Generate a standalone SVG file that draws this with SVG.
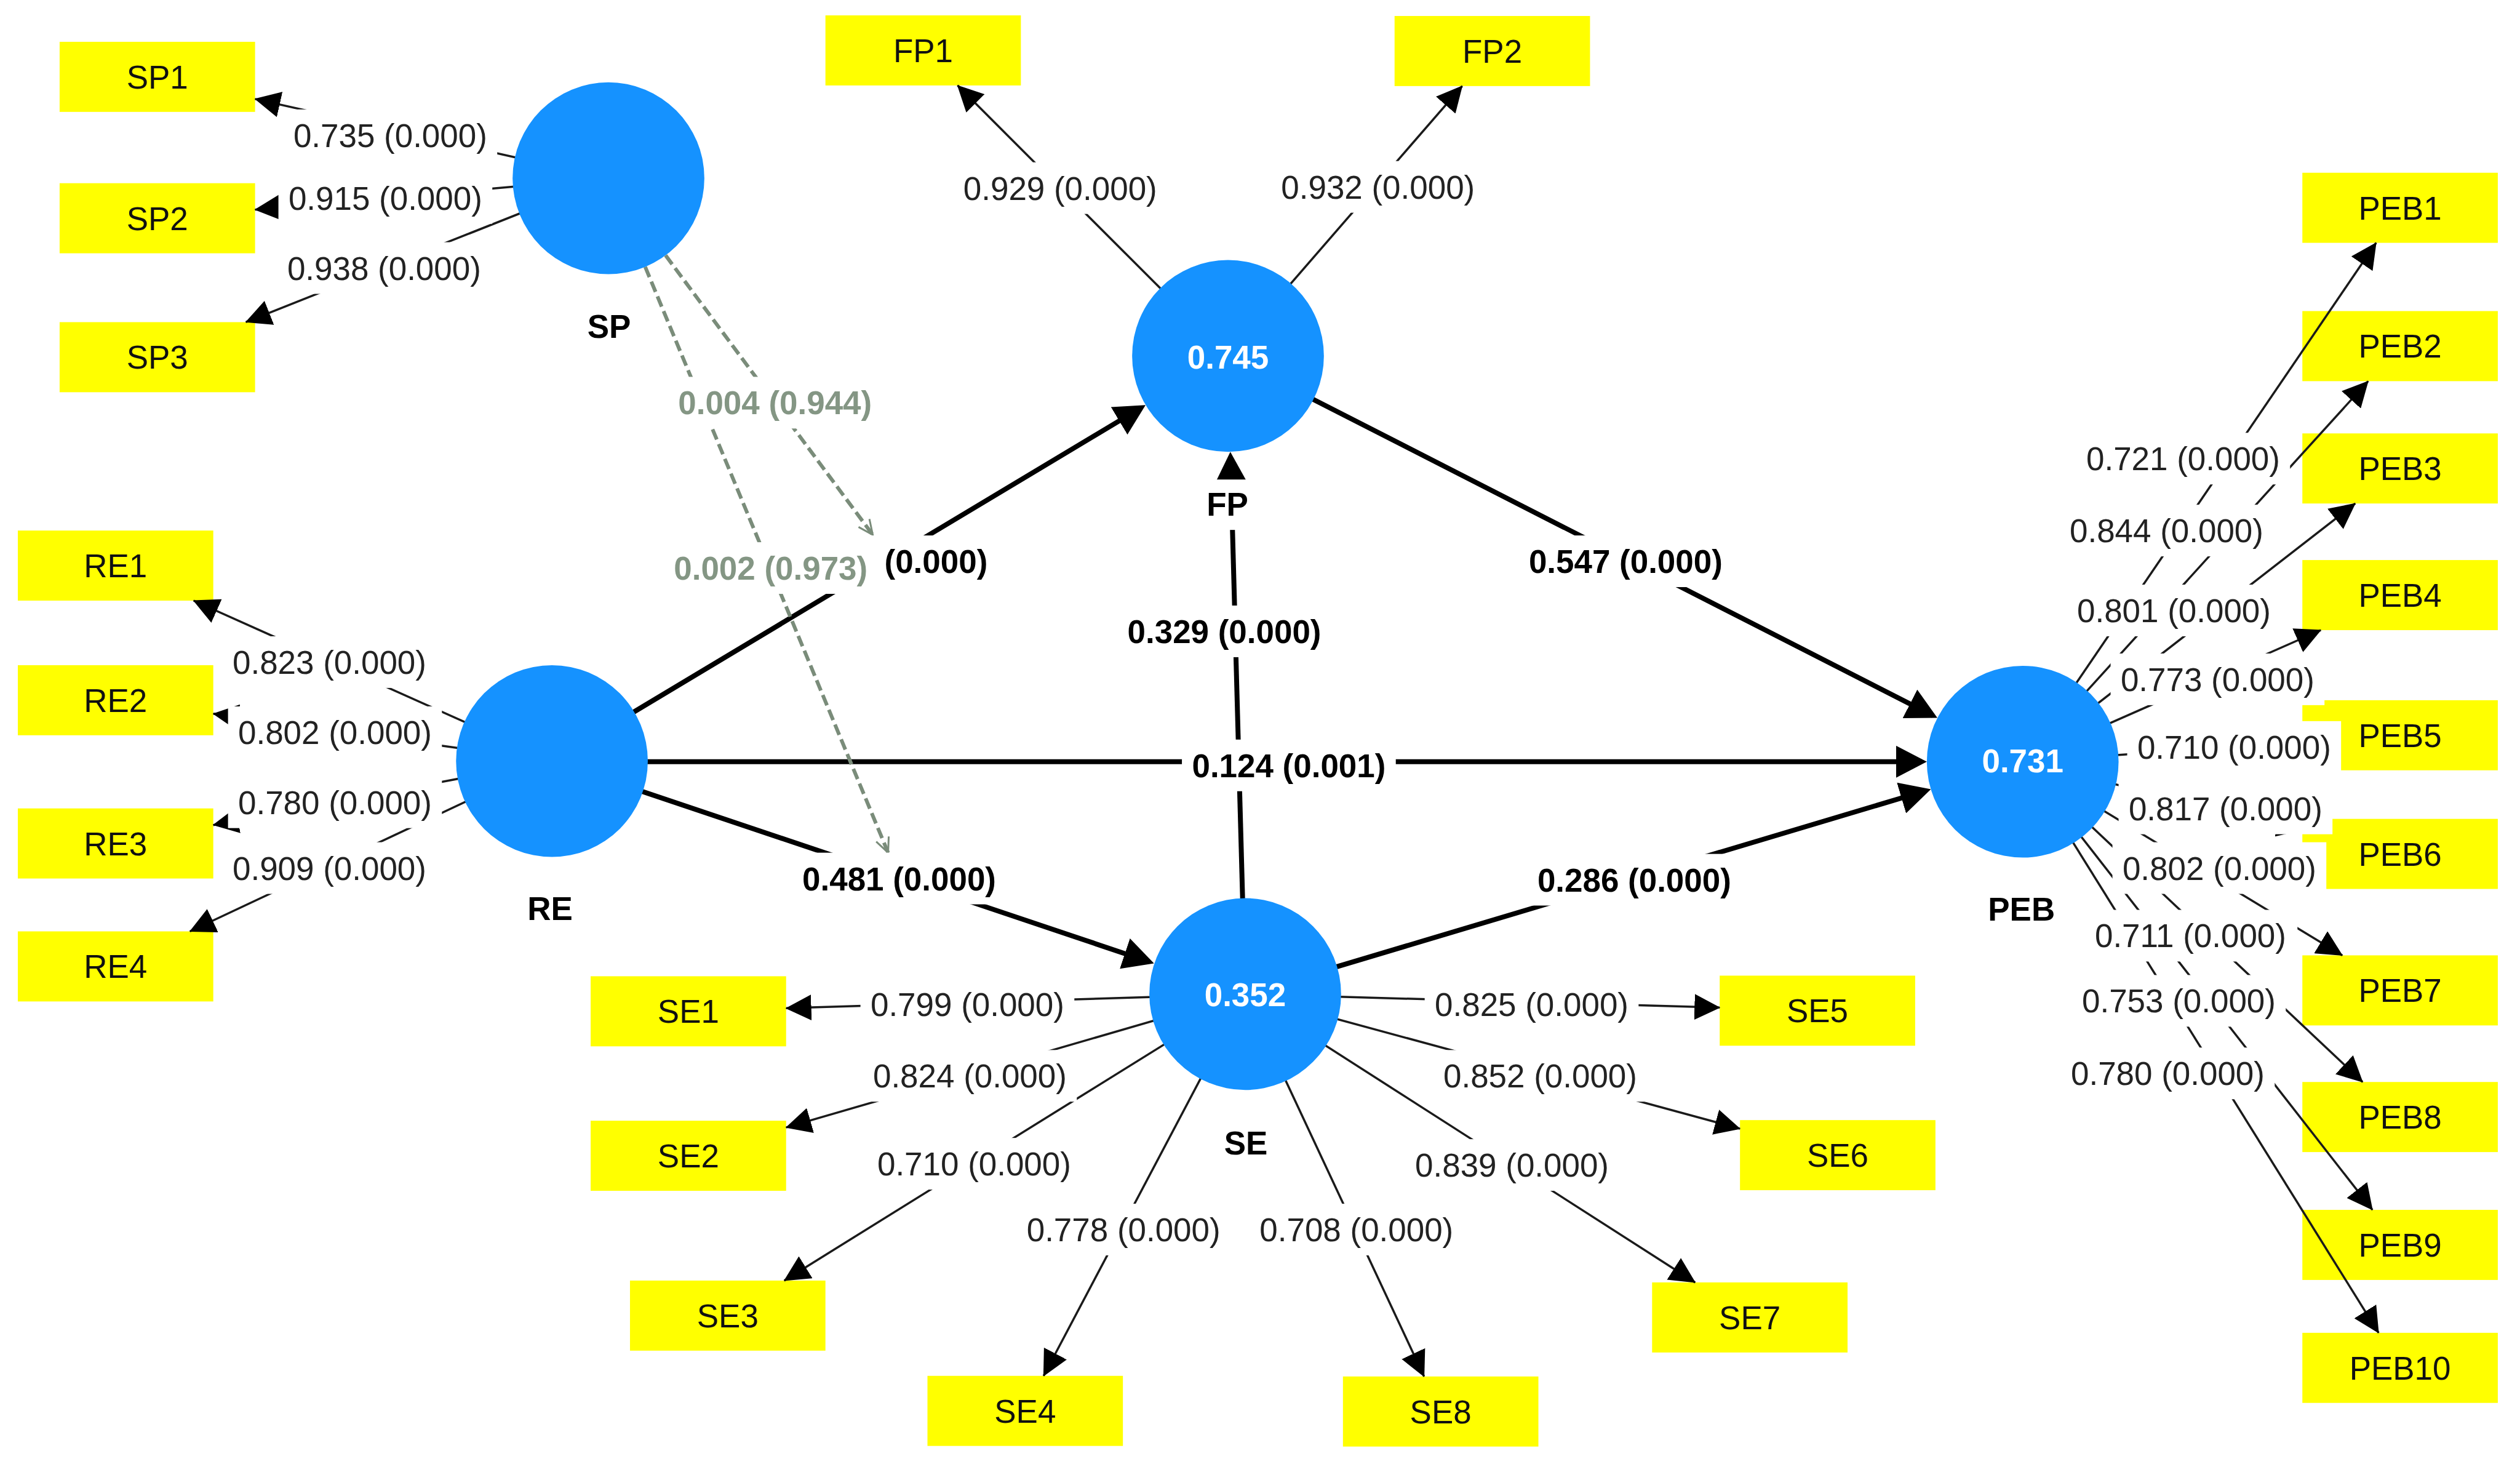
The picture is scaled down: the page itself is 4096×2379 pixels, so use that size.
<svg xmlns="http://www.w3.org/2000/svg" width="4096" height="2379" viewBox="0 0 4096 2379">
<style>
text{font-family:"Liberation Sans",Arial,sans-serif;font-size:53px;text-anchor:middle}
.box{fill:#FFFF00}
.bt{fill:#111}
.lv{fill:#1592FF}
.lt{fill:#fff;font-weight:bold}
.nm{fill:#000;font-weight:bold}
.bg{fill:#fff}
.ld{stroke:#1a1a1a;stroke-width:3.5;fill:none;marker-end:url(#a1)}
.lp{stroke:#000;stroke-width:8;fill:none;marker-end:url(#a2)}
.dm{stroke:#7a8c7a;stroke-width:6;stroke-dasharray:18 8;fill:none;marker-end:url(#ao)}
.tl{fill:#222}
.tp{fill:#000;font-weight:bold}
.tg{fill:#849684;font-weight:bold}
</style>
<defs>
<marker id="a1" markerUnits="userSpaceOnUse" markerWidth="42" markerHeight="42" viewBox="0 0 42 42" refX="41" refY="21" orient="auto"><path d="M0,0 L42,21 L0,42 z" fill="#000"/></marker>
<marker id="a2" markerUnits="userSpaceOnUse" markerWidth="50" markerHeight="52" viewBox="0 0 50 52" refX="42" refY="26" orient="auto"><path d="M0,0 L50,26 L0,52 z" fill="#000"/></marker>
<marker id="ao" markerUnits="userSpaceOnUse" markerWidth="30" markerHeight="30" viewBox="0 0 30 30" refX="28" refY="15" orient="auto"><path d="M4,4 L28,15 L4,26" fill="none" stroke="#7a8c7a" stroke-width="3"/></marker>
</defs>
<rect width="4096" height="2379" fill="#fff"/>
<g transform="scale(0.999)">
<g id="indicators">
<g id="SP1"><rect class="box" x="97" y="68" width="318" height="114"/><text class="bt" x="256" y="144">SP1</text></g>
<g id="SP2"><rect class="box" x="97" y="298" width="318" height="114"/><text class="bt" x="256" y="374">SP2</text></g>
<g id="SP3"><rect class="box" x="97" y="524" width="318" height="114"/><text class="bt" x="256" y="600">SP3</text></g>
<g id="FP1"><rect class="box" x="1343" y="25" width="318" height="114"/><text class="bt" x="1502" y="101">FP1</text></g>
<g id="FP2"><rect class="box" x="2269" y="26" width="318" height="114"/><text class="bt" x="2428" y="102">FP2</text></g>
<g id="RE1"><rect class="box" x="29" y="863" width="318" height="114"/><text class="bt" x="188" y="939">RE1</text></g>
<g id="RE2"><rect class="box" x="29" y="1082" width="318" height="114"/><text class="bt" x="188" y="1158">RE2</text></g>
<g id="RE3"><rect class="box" x="29" y="1315" width="318" height="114"/><text class="bt" x="188" y="1391">RE3</text></g>
<g id="RE4"><rect class="box" x="29" y="1515" width="318" height="114"/><text class="bt" x="188" y="1591">RE4</text></g>
<g id="SE1"><rect class="box" x="961" y="1588" width="318" height="114"/><text class="bt" x="1120" y="1664">SE1</text></g>
<g id="SE2"><rect class="box" x="961" y="1823" width="318" height="114"/><text class="bt" x="1120" y="1899">SE2</text></g>
<g id="SE3"><rect class="box" x="1025" y="2083" width="318" height="114"/><text class="bt" x="1184" y="2159">SE3</text></g>
<g id="SE4"><rect class="box" x="1509" y="2238" width="318" height="114"/><text class="bt" x="1668" y="2314">SE4</text></g>
<g id="SE5"><rect class="box" x="2798" y="1587" width="318" height="114"/><text class="bt" x="2957" y="1663">SE5</text></g>
<g id="SE6"><rect class="box" x="2831" y="1822" width="318" height="114"/><text class="bt" x="2990" y="1898">SE6</text></g>
<g id="SE7"><rect class="box" x="2688" y="2086" width="318" height="114"/><text class="bt" x="2847" y="2162">SE7</text></g>
<g id="SE8"><rect class="box" x="2185" y="2239" width="318" height="114"/><text class="bt" x="2344" y="2315">SE8</text></g>
<g id="PEB1"><rect class="box" x="3746" y="281" width="318" height="114"/><text class="bt" x="3905" y="357">PEB1</text></g>
<g id="PEB2"><rect class="box" x="3746" y="506" width="318" height="114"/><text class="bt" x="3905" y="582">PEB2</text></g>
<g id="PEB3"><rect class="box" x="3746" y="705" width="318" height="114"/><text class="bt" x="3905" y="781">PEB3</text></g>
<g id="PEB4"><rect class="box" x="3746" y="911" width="318" height="114"/><text class="bt" x="3905" y="987">PEB4</text></g>
<g id="PEB5"><rect class="box" x="3746" y="1139" width="318" height="114"/><text class="bt" x="3905" y="1215">PEB5</text></g>
<g id="PEB6"><rect class="box" x="3746" y="1332" width="318" height="114"/><text class="bt" x="3905" y="1408">PEB6</text></g>
<g id="PEB7"><rect class="box" x="3746" y="1554" width="318" height="114"/><text class="bt" x="3905" y="1630">PEB7</text></g>
<g id="PEB8"><rect class="box" x="3746" y="1760" width="318" height="114"/><text class="bt" x="3905" y="1836">PEB8</text></g>
<g id="PEB9"><rect class="box" x="3746" y="1968" width="318" height="114"/><text class="bt" x="3905" y="2044">PEB9</text></g>
<g id="PEB10"><rect class="box" x="3746" y="2168" width="318" height="114"/><text class="bt" x="3905" y="2244">PEB10</text></g>
</g>
<g id="connectors">
<path class="ld" d="M990,290 L415,161"/>
<path class="ld" d="M990,290 L415,341"/>
<path class="ld" d="M990,290 L400,524"/>
<path class="ld" d="M1998,579 L1558,139"/>
<path class="ld" d="M1998,579 L2379,140"/>
<path class="ld" d="M898,1238 L315,977"/>
<path class="ld" d="M898,1238 L347,1161"/>
<path class="ld" d="M898,1238 L347,1342"/>
<path class="ld" d="M898,1238 L309,1515"/>
<path class="ld" d="M2026,1617 L1279,1640"/>
<path class="ld" d="M2026,1617 L1279,1834"/>
<path class="ld" d="M2026,1617 L1276,2083"/>
<path class="ld" d="M2026,1617 L1698,2238"/>
<path class="ld" d="M2026,1617 L2317,2239"/>
<path class="ld" d="M2026,1617 L2798,1639"/>
<path class="ld" d="M2026,1617 L2831,1836"/>
<path class="ld" d="M2026,1617 L2758,2086"/>
<path class="ld" d="M3291,1239 L3866,395"/>
<path class="ld" d="M3291,1239 L3853,620"/>
<path class="ld" d="M3291,1239 L3832,819"/>
<path class="ld" d="M3291,1239 L3776,1025"/>
<path class="ld" d="M3291,1239 L3746,1207"/>
<path class="ld" d="M3291,1239 L3746,1350"/>
<path class="ld" d="M3291,1239 L3811,1554"/>
<path class="ld" d="M3291,1239 L3844,1760"/>
<path class="ld" d="M3291,1239 L3860,1968"/>
<path class="ld" d="M3291,1239 L3870,2168"/>
<path class="lp" d="M898,1238 L1857,663"/>
<path class="lp" d="M898,1239 L3127,1239"/>
<path class="lp" d="M898,1238 L1870,1564.5"/>
<path class="lp" d="M2026,1617 L2002,743"/>
<path class="lp" d="M1998,579 L3145,1164"/>
<path class="lp" d="M2026,1617 L3134,1286"/>
<path class="dm" d="M990,290 L1420,870"/>
<path class="dm" d="M990,290 L1445,1387"/>
</g>
<g id="labels">
<rect class="bg" x="461" y="178" width="348" height="84"/><text class="tl" x="635" y="239">0.735 (0.000)</text>
<rect class="bg" x="453" y="280" width="348" height="84"/><text class="tl" x="627" y="341">0.915 (0.000)</text>
<rect class="bg" x="451" y="394" width="348" height="84"/><text class="tl" x="625" y="455">0.938 (0.000)</text>
<rect class="bg" x="1551" y="264" width="348" height="84"/><text class="tl" x="1725" y="325">0.929 (0.000)</text>
<rect class="bg" x="2068" y="262" width="348" height="84"/><text class="tl" x="2242" y="323">0.932 (0.000)</text>
<rect class="bg" x="362" y="1035" width="348" height="84"/><text class="tl" x="536" y="1096">0.823 (0.000)</text>
<rect class="bg" x="371" y="1149" width="348" height="84"/><text class="tl" x="545" y="1210">0.802 (0.000)</text>
<rect class="bg" x="371" y="1263" width="348" height="84"/><text class="tl" x="545" y="1324">0.780 (0.000)</text>
<rect class="bg" x="362" y="1370" width="348" height="84"/><text class="tl" x="536" y="1431">0.909 (0.000)</text>
<rect class="bg" x="1400" y="1592" width="348" height="84"/><text class="tl" x="1574" y="1653">0.799 (0.000)</text>
<rect class="bg" x="1404" y="1708" width="348" height="84"/><text class="tl" x="1578" y="1769">0.824 (0.000)</text>
<rect class="bg" x="1411" y="1851" width="348" height="84"/><text class="tl" x="1585" y="1912">0.710 (0.000)</text>
<rect class="bg" x="1654" y="1958" width="348" height="84"/><text class="tl" x="1828" y="2019">0.778 (0.000)</text>
<rect class="bg" x="2033" y="1958" width="348" height="84"/><text class="tl" x="2207" y="2019">0.708 (0.000)</text>
<rect class="bg" x="2318" y="1592" width="348" height="84"/><text class="tl" x="2492" y="1653">0.825 (0.000)</text>
<rect class="bg" x="2332" y="1708" width="348" height="84"/><text class="tl" x="2506" y="1769">0.852 (0.000)</text>
<rect class="bg" x="2286" y="1853" width="348" height="84"/><text class="tl" x="2460" y="1914">0.839 (0.000)</text>
<rect class="bg" x="3378" y="704" width="348" height="84"/><text class="tl" x="3552" y="765">0.721 (0.000)</text>
<rect class="bg" x="3351" y="821" width="348" height="84"/><text class="tl" x="3525" y="882">0.844 (0.000)</text>
<rect class="bg" x="3363" y="951" width="348" height="84"/><text class="tl" x="3537" y="1012">0.801 (0.000)</text>
<rect class="bg" x="3434" y="1063" width="348" height="84"/><text class="tl" x="3608" y="1124">0.773 (0.000)</text>
<rect class="bg" x="3461" y="1173" width="348" height="84"/><text class="tl" x="3635" y="1234">0.710 (0.000)</text>
<rect class="bg" x="3447" y="1273" width="348" height="84"/><text class="tl" x="3621" y="1334">0.817 (0.000)</text>
<rect class="bg" x="3437" y="1370" width="348" height="84"/><text class="tl" x="3611" y="1431">0.802 (0.000)</text>
<rect class="bg" x="3390" y="1480" width="348" height="84"/><text class="tl" x="3564" y="1541">0.711 (0.000)</text>
<rect class="bg" x="3371" y="1586" width="348" height="84"/><text class="tl" x="3545" y="1647">0.753 (0.000)</text>
<rect class="bg" x="3353" y="1704" width="348" height="84"/><text class="tl" x="3527" y="1765">0.780 (0.000)</text>
<rect class="bg" x="1289" y="1387" width="348" height="84"/><text class="tp" x="1463" y="1448">0.481 (0.000)</text>
<rect class="bg" x="1923" y="1203" width="348" height="84"/><text class="tp" x="2097" y="1264">0.124 (0.001)</text>
<rect class="bg" x="1818" y="985" width="348" height="84"/><text class="tp" x="1992" y="1046">0.329 (0.000)</text>
<rect class="bg" x="2471" y="871" width="348" height="84"/><text class="tp" x="2645" y="932">0.547 (0.000)</text>
<rect class="bg" x="2485" y="1389" width="348" height="84"/><text class="tp" x="2659" y="1450">0.286 (0.000)</text>
<rect class="bg" x="1273" y="871" width="350" height="84"/><text class="tp" x="1439" y="932" style="text-anchor:start">(0.000)</text>
<rect class="bg" x="1087" y="613" width="348" height="84"/><text class="tg" x="1261" y="674">0.004 (0.944)</text>
<rect class="bg" x="1080" y="882" width="348" height="84"/><text class="tg" x="1254" y="943">0.002 (0.973)</text>
</g>
<g id="constructs">
<g id="SP"><circle class="lv" cx="990" cy="290" r="156"/><rect class="bg" x="939" y="489" width="104" height="84"/><text class="nm" x="991" y="550">SP</text></g>
<g id="FP"><circle class="lv" cx="1998" cy="579" r="156"/><text class="lt" x="1998" y="600">0.745</text><rect class="bg" x="1947" y="780" width="100" height="82"/><text class="nm" x="1997" y="839">FP</text></g>
<g id="RE"><circle class="lv" cx="898" cy="1238" r="156"/><rect class="bg" x="845" y="1435" width="100" height="84"/><text class="nm" x="895" y="1496">RE</text></g>
<g id="SE"><circle class="lv" cx="2026" cy="1617" r="156"/><text class="lt" x="2026" y="1637">0.352</text><rect class="bg" x="1975" y="1817" width="104" height="84"/><text class="nm" x="2027" y="1878">SE</text></g>
<g id="PEB"><circle class="lv" cx="3291" cy="1239" r="156"/><text class="lt" x="3291" y="1256">0.731</text><rect class="bg" x="3220" y="1436" width="138" height="84"/><text class="nm" x="3289" y="1497">PEB</text></g>
</g>
</g>
</svg>
